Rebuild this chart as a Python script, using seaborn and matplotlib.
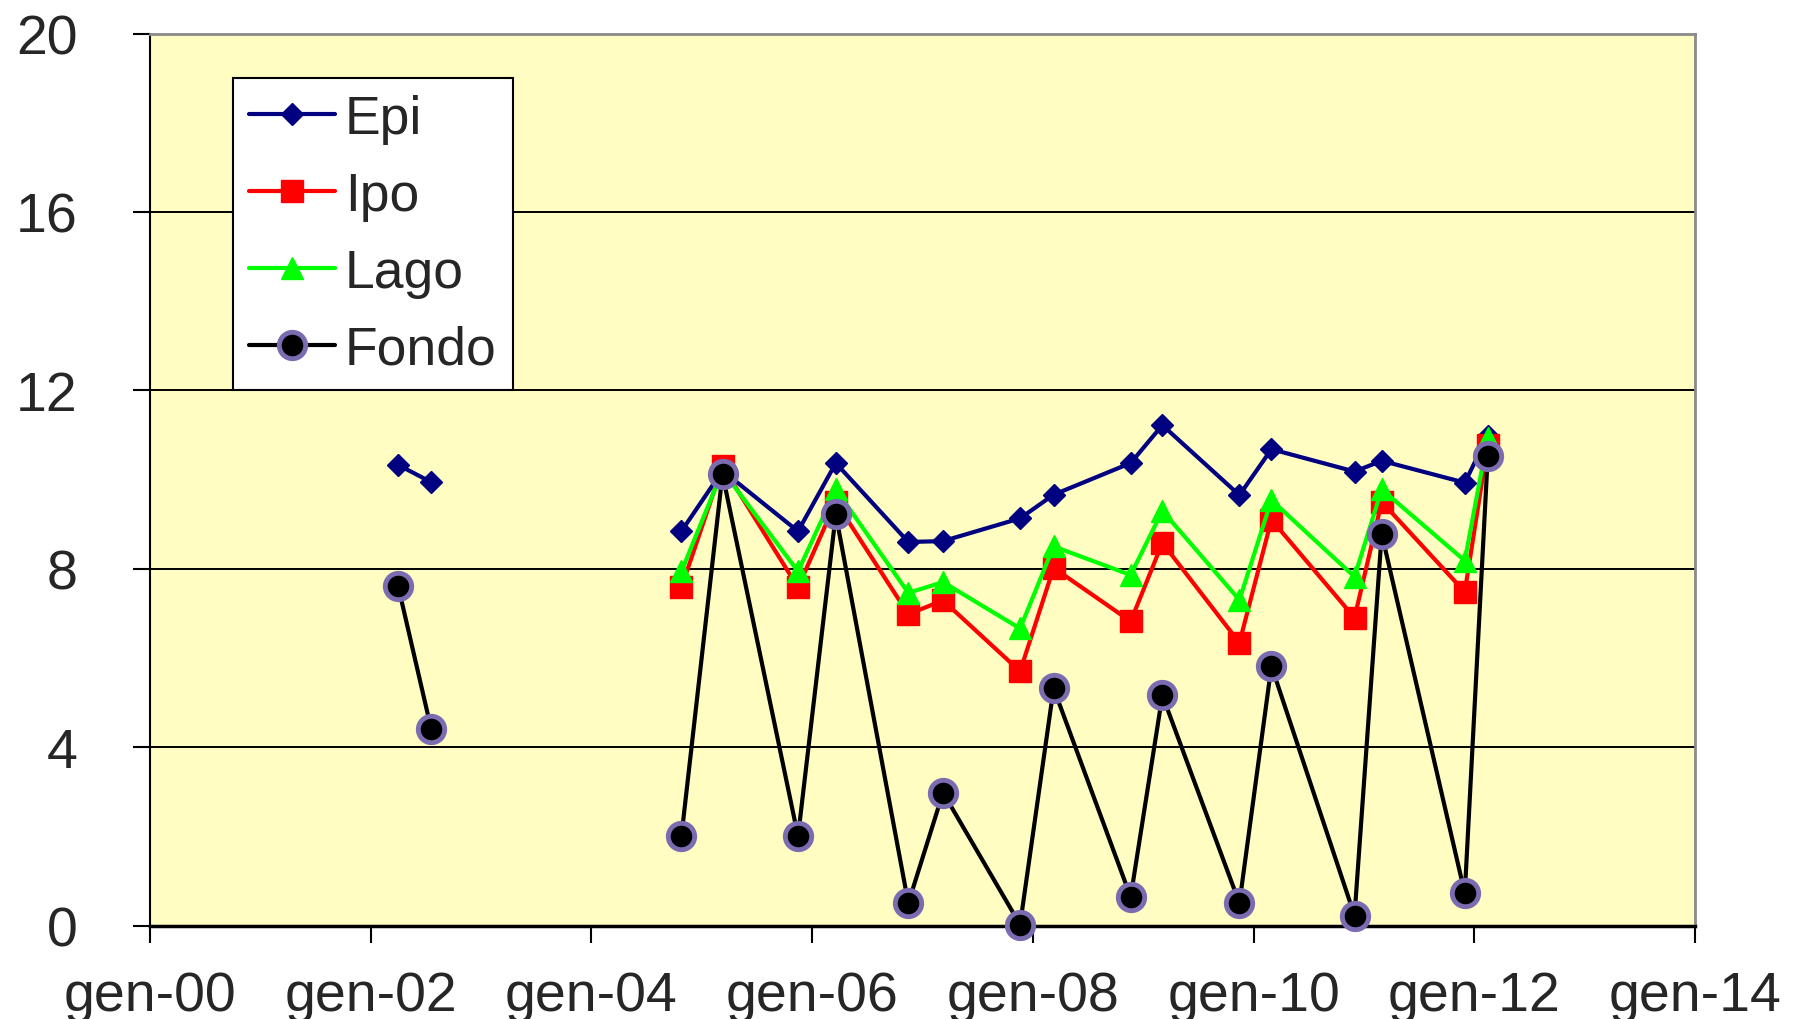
import numpy as np
import pandas as pd
import matplotlib
matplotlib.use("Agg")
import matplotlib.pyplot as plt
import matplotlib.dates as mdates
from matplotlib.lines import Line2D
import seaborn as sns

# ---------------- data ----------------
dates = ["2002-04-01", "2002-07-20", "2004-10-25", "2005-03-10", "2005-11-15",
         "2006-03-20", "2006-11-15", "2007-03-10", "2007-11-20", "2008-03-10",
         "2008-11-20", "2009-03-05", "2009-11-15", "2010-03-01", "2010-12-01",
         "2011-03-01", "2011-12-01", "2012-02-15"]
segment = [0, 0, 1, 1, 1, 1, 1, 1, 1, 1, 1, 1, 1, 1, 1, 1, 1, 1]
epi = [10.33, 9.94, 8.84, 10.2, 8.84, 10.37, 8.60, 8.62, 9.13, 9.66,
       10.37, 11.22, 9.65, 10.68, 10.18, 10.42, 9.93, 10.98]
ipo = [np.nan, np.nan, 7.58, 10.3, 7.58, 9.5, 6.98, 7.29, 5.70, 8.02,
       6.82, 8.58, 6.34, 9.10, 6.90, 9.50, 7.48, 10.78]
lago = [np.nan, np.nan, 7.94, 10.2, 7.94, 9.78, 7.46, 7.70, 6.66, 8.50,
        7.86, 9.30, 7.30, 9.54, 7.82, 9.78, 8.18, 10.94]
fondo = [7.62, 4.40, 2.00, 10.12, 2.00, 9.22, 0.50, 2.98, 0.02, 5.32,
         0.64, 5.16, 0.50, 5.82, 0.22, 8.78, 0.72, 10.52]
series_names = ["Epi", "Ipo", "Lago", "Fondo"]
y_ticks = [0, 4, 8, 12, 16, 20]
x_tick_years = [2000, 2002, 2004, 2006, 2008, 2010, 2012, 2014]

df = pd.DataFrame({"date": pd.to_datetime(dates), "seg": segment,
                   "Epi": epi, "Ipo": ipo, "Lago": lago, "Fondo": fondo})
long = df.melt(id_vars=["date", "seg"], var_name="serie", value_name="val").dropna()

# ---------------- style ----------------
sns.set_theme(style="white")
plt.rcParams["font.family"] = ["Liberation Sans", "DejaVu Sans"]

styles = {
    "Epi":   dict(color="#000080", marker="D", ms=11, mfc="#000080", mec="#000080", mew=1),
    "Ipo":   dict(color="#FF0000", marker="s", ms=16, mfc="#FF0000", mec="#FF0000", mew=1),
    "Lago":  dict(color="#00FF00", marker="^", ms=16, mfc="#00FF00", mec="#00FF00", mew=1),
    "Fondo": dict(color="#000000", marker="o", ms=19, mfc="#000000", mec="#7B6BB0", mew=3.5),
}
LW = 3.0

fig = plt.figure(figsize=(18.07, 10.20), dpi=100)
ax = fig.add_axes([150 / 1807, 1 - 926.5 / 1020, (1695 - 150) / 1807, (926.5 - 34.6) / 1020])
ax.set_facecolor("#FFFDC2")

for i, name in enumerate(series_names):
    st = styles[name]
    sub = long[long["serie"] == name]
    sns.lineplot(data=sub, x="date", y="val", units="seg", estimator=None,
                 color=st["color"], marker=st["marker"], markersize=st["ms"],
                 markerfacecolor=st["mfc"], mec=st["mec"], mew=st["mew"],
                 linewidth=LW, legend=False, ax=ax, zorder=3 + i, clip_on=False)

ax.set_xlim(pd.Timestamp("2000-01-01"), pd.Timestamp("2014-01-01"))
ax.set_ylim(0, 20)
ax.set_yticks(y_ticks)
ax.set_xticks([pd.Timestamp(f"{y}-01-01") for y in x_tick_years])
ax.xaxis.set_major_formatter(mdates.DateFormatter("gen-%y"))
ax.set_xlabel("")
ax.set_ylabel("")

ax.yaxis.grid(True, color="black", linewidth=1.4)
ax.xaxis.grid(False)
ax.set_axisbelow(True)

for side in ["left", "bottom"]:
    ax.spines[side].set_color("black")
ax.spines["left"].set_linewidth(1.5)
ax.spines["bottom"].set_linewidth(2.5)
for side in ["top", "right"]:
    ax.spines[side].set_color("#8A8A8A")
    ax.spines[side].set_linewidth(2)

ax.tick_params(axis="y", which="major", direction="out", length=12, width=1.5,
               color="black", pad=40, labelsize=40, left=True)
ax.tick_params(axis="x", which="major", direction="out", length=12, width=1.5,
               color="black", pad=20, labelsize=40, bottom=True)

handles = []
for name in series_names:
    st = styles[name]
    handles.append(Line2D([0], [0], color=st["color"], lw=LW, marker=st["marker"],
                          markersize=st["ms"], markerfacecolor=st["mfc"],
                          markeredgecolor=st["mec"], markeredgewidth=st["mew"]))
leg = ax.legend(handles, series_names, loc="upper left",
                bbox_to_anchor=(233 / 1807, 1 - 79 / 1020), bbox_transform=fig.transFigure,
                borderaxespad=0, fontsize=38.5, frameon=True, fancybox=False, framealpha=1,
                edgecolor="black", facecolor="white", handlelength=1.6,
                handletextpad=0.19, labelspacing=0.5, borderpad=0.3)
leg.get_frame().set_linewidth(1.5)

fig.savefig("out.png", dpi=100)
